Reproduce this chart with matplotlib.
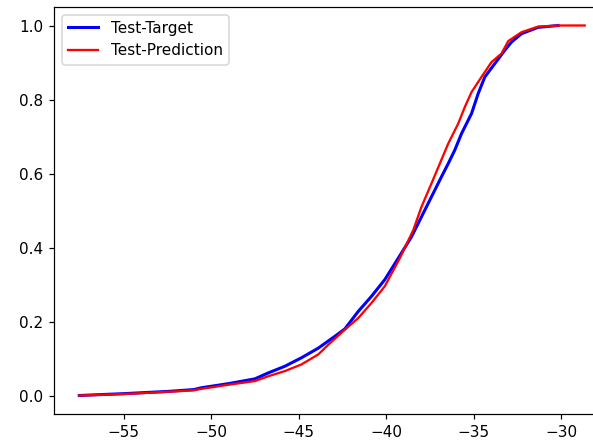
import numpy as np
import matplotlib.pyplot as plt

target_x = [-57.55, -55.0, -52.5, -51.0, -50.56, -49.03, -47.51, -46.75, -45.8, -44.85,
            -43.89, -42.94, -42.37, -41.61, -40.85, -40.09, -39.32, -38.56, -37.99,
            -37.42, -36.85, -36.46, -36.09, -35.7, -35.13, -34.75, -34.37, -33.8,
            -33.23, -32.85, -32.27, -31.32, -30.18]
target_y = [0.0, 0.005, 0.011, 0.016, 0.021, 0.032, 0.045, 0.061, 0.079, 0.102,
            0.128, 0.160, 0.180, 0.227, 0.268, 0.313, 0.371, 0.429, 0.483,
            0.537, 0.591, 0.627, 0.663, 0.708, 0.762, 0.816, 0.861, 0.897,
            0.933, 0.955, 0.978, 0.995, 1.0]

pred_x = [-57.55, -55.0, -52.5, -51.0, -50.56, -49.03, -47.51, -46.75, -45.8, -44.85,
          -43.89, -43.32, -42.37, -41.61, -40.85, -40.09, -39.23, -38.46, -37.99,
          -37.42, -36.94, -36.46, -35.89, -35.51, -35.13, -34.56, -33.99, -33.42,
          -33.03, -32.27, -31.32, -30.0, -28.66]
pred_y = [0.0, 0.004, 0.01, 0.014, 0.018, 0.029, 0.039, 0.052, 0.066, 0.084,
          0.111, 0.137, 0.178, 0.209, 0.250, 0.295, 0.371, 0.447, 0.510,
          0.573, 0.627, 0.681, 0.735, 0.780, 0.820, 0.861, 0.901, 0.924,
          0.958, 0.982, 0.997, 1.0, 1.0]

fig = plt.figure(figsize=(593/110, 440/110), dpi=110)
# right spine falls just outside the image, as in the reference crop
ax = fig.add_axes([54/593, 26/440, 556/593, 407/440])
ax.spines['right'].set_visible(False)

ax.plot(target_x, target_y, color='blue', lw=2, label='Test-Target')
ax.plot(pred_x, pred_y, color='red', lw=1.5, label='Test-Prediction')

ax.set_xticks([-55, -50, -45, -40, -35, -30])
ax.set_yticks([0.0, 0.2, 0.4, 0.6, 0.8, 1.0])
ax.legend(loc='upper left')

fig.savefig('out.png', dpi=110)
